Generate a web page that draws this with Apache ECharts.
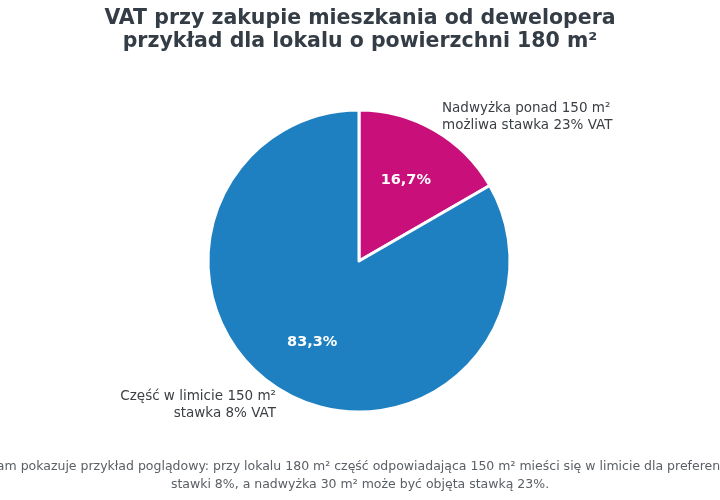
<!DOCTYPE html>
<html>
<head>
<meta charset="utf-8">
<script src="https://cdn.jsdelivr.net/npm/echarts@6/dist/echarts.min.js"></script>
<style>
  html, body { margin: 0; padding: 0; background: #fff; }
  #chart { width: 720px; height: 500px; }
</style>
</head>
<body>
<div id="chart"></div>
<script>
  // dane: powierzchnia w m2
  var sliceNames = [
    'Nadwyżka ponad 150 m²\nmożliwa stawka 23% VAT',
    'Część w limicie 150 m²\nstawka 8% VAT'
  ];
  var sliceValues = [30, 150];
  var sliceColors = ['#c80f7a', '#1f80c1'];

  var titleText = 'VAT przy zakupie mieszkania od dewelopera\nprzykład dla lokalu o powierzchni 180 m²';
  var noteText = 'Diagram pokazuje przykład poglądowy: przy lokalu 180 m² część odpowiadająca 150 m² mieści się w limicie dla preferencyjnej\nstawki 8%, a nadwyżka 30 m² może być objęta stawką 23%.';

  var FONT = 'DejaVu Sans';
  var R = 151;

  var pieData = sliceNames.map(function(name, i) {
    return { name: name, value: sliceValues[i], itemStyle: { color: sliceColors[i] } };
  });

  var chart = echarts.init(document.getElementById('chart'), null, { renderer: 'canvas' });

  chart.setOption({
    backgroundColor: '#ffffff',
    animation: false,
    graphic: [
      {
        type: 'text',
        x: 360,
        y: 7,
        style: {
          text: titleText,
          fontFamily: FONT,
          fontWeight: 'bold',
          fontSize: 20.5,
          lineHeight: 23,
          fill: '#343d46',
          align: 'center'
        }
      },
      {
        type: 'text',
        x: 360,
        y: 458,
        style: {
          text: noteText,
          fontFamily: FONT,
          fontSize: 12.5,
          lineHeight: 18,
          fill: '#5a6066',
          align: 'center'
        }
      }
    ],
    series: [
      {
        type: 'pie',
        center: [359, 261],
        radius: [0, R],
        startAngle: 90,
        clockwise: true,
        avoidLabelOverlap: false,
        silent: true,
        itemStyle: { borderColor: '#ffffff', borderWidth: 3 },
        label: {
          show: true,
          position: 'outside',
          distanceToLabelLine: 0,
          fontFamily: FONT,
          fontSize: 13.5,
          lineHeight: 17,
          color: '#3a3f44',
          formatter: '{b}'
        },
        labelLine: { show: false, length: 15, length2: 0 },
        data: pieData
      },
      {
        type: 'pie',
        center: [359, 261],
        radius: [0, R * 1.2],
        startAngle: 90,
        clockwise: true,
        avoidLabelOverlap: false,
        silent: true,
        z: 3,
        itemStyle: { color: 'transparent', borderWidth: 0 },
        label: {
          show: true,
          position: 'inside',
          fontFamily: FONT,
          fontWeight: 'bold',
          fontSize: 14.5,
          color: '#ffffff',
          formatter: function(p) {
            return p.percent.toFixed(1).replace('.', ',') + '%';
          }
        },
        labelLine: { show: false },
        data: sliceNames.map(function(name, i) {
          return { name: name, value: sliceValues[i] };
        })
      }
    ]
  });
</script>
</body>
</html>
